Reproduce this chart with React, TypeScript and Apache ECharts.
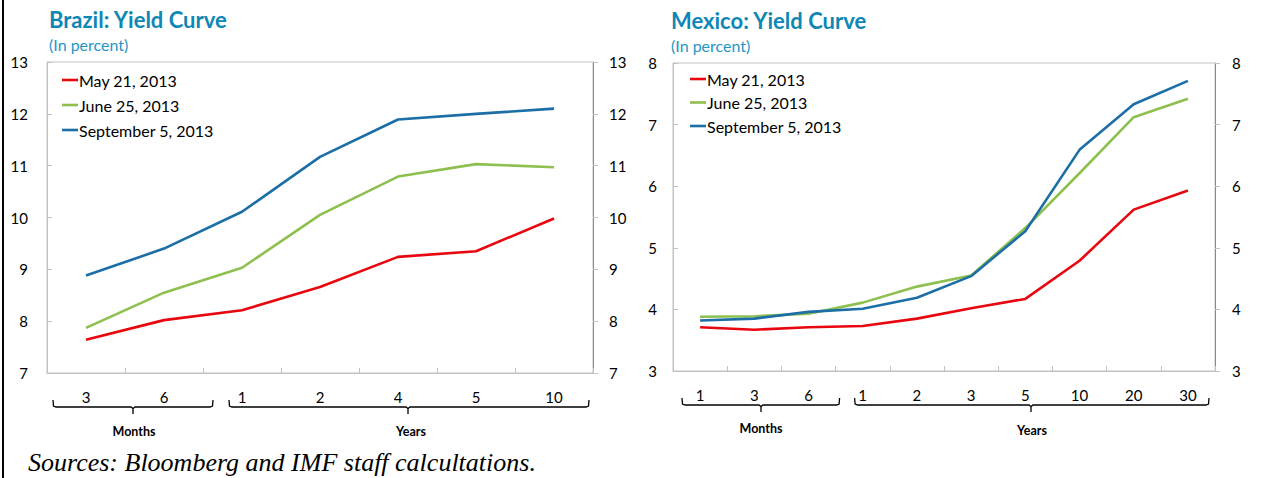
import React, { useEffect, useRef } from "react";
import * as echarts from "echarts";

const seriesNames = ["May 21, 2013", "June 25, 2013", "September 5, 2013"];
const seriesColors = ["#e8060f", "#8dc04f", "#1c6ea6"];

const brazilCategories = ["3", "6", "1", "2", "4", "5", "10"];
const brazilMay = [7.64, 8.02, 8.21, 8.66, 9.24, 9.35, 9.98];
const brazilJune = [7.87, 8.55, 9.03, 10.05, 10.79, 11.03, 10.97];
const brazilSep = [8.88, 9.4, 10.11, 11.17, 11.89, 12.0, 12.1];

const mexicoCategories = ["1", "3", "6", "1", "2", "3", "5", "10", "20", "30"];
const mexicoMay = [3.71, 3.67, 3.71, 3.73, 3.85, 4.02, 4.17, 4.79, 5.62, 5.93];
const mexicoJune = [3.88, 3.89, 3.93, 4.11, 4.37, 4.55, 5.32, 6.21, 7.12, 7.42];
const mexicoSep = [3.82, 3.85, 3.96, 4.01, 4.19, 4.54, 5.27, 6.59, 7.33, 7.71];

const brazilY = { min: 7, max: 13 };
const mexicoY = { min: 3, max: 8 };

const FONT = "Lato";
const TITLE_COLOR = "#0f87b5";
const SUB_COLOR = "#2596c4";
const LIGHT = "#c3c3c3";
const DARK = "#8a8a8a";

// layout
const BR = { left: 47, top: 62, width: 546, height: 311 };
const MX = { left: 673, top: 63, width: 542, height: 308 };

function brace(x0: number, x1: number, cx: number, y: number) {
  const top = y - 7;
  const bot = y + 7;
  return [
    {
      type: "polyline",
      silent: true,
      shape: {
        points: [
          [x0, top],
          [x0 + 0.5, y - 1],
          [x0 + 3, y],
          [cx - 2, y],
          [cx, y + 1.5],
          [cx, bot],
        ],
      },
      style: { stroke: "#000", lineWidth: 1.3, fill: "none" },
    },
    {
      type: "polyline",
      silent: true,
      shape: {
        points: [
          [cx, y + 1.5],
          [cx + 2, y],
          [x1 - 3, y],
          [x1 - 0.5, y - 1],
          [x1, top],
        ],
      },
      style: { stroke: "#000", lineWidth: 1.3, fill: "none" },
    },
  ];
}

function boldLabel(text: string, x: number, y: number) {
  return {
    type: "text",
    silent: true,
    x,
    y,
    style: {
      text,
      fontFamily: FONT,
      fontWeight: "bold",
      fontSize: 12.5,
      fill: "#000",
      align: "center",
      verticalAlign: "middle",
    },
  };
}

export default function App() {
  const ref = useRef<HTMLDivElement>(null);

  useEffect(() => {
    if (!ref.current) return;
    const chart = echarts.init(ref.current, null, { renderer: "svg" });

    const xAxisBase = (gridIndex: number, data: string[]) => ({
      type: "category",
      gridIndex,
      data,
      boundaryGap: true,
      axisLine: { show: true, lineStyle: { color: LIGHT, width: 1 } },
      axisTick: { show: true, inside: true, length: 5, lineStyle: { color: LIGHT } },
      axisLabel: { color: "#000", fontSize: 15, fontFamily: FONT, margin: 16, interval: 0 },
      splitLine: { show: false },
    });

    const yAxisBase = (
      gridIndex: number,
      range: { min: number; max: number },
      position: "left" | "right",
      margin: number
    ) => ({
      type: "value",
      gridIndex,
      position,
      min: range.min,
      max: range.max,
      interval: 1,
      axisLine: {
        show: true,
        lineStyle: { color: position === "left" ? LIGHT : DARK, width: 1 },
      },
      axisTick: {
        show: true,
        inside: position === "left",
        length: 5,
        lineStyle: { color: LIGHT },
      },
      axisLabel: { color: "#000", fontSize: 15, fontFamily: FONT, margin },
      splitLine: { show: false },
    });

    const mkSeries = (
      xAxisIndex: number,
      yAxisIndex: number,
      data: number[][]
    ) =>
      data.map((d, i) => ({
        name: seriesNames[i],
        type: "line",
        xAxisIndex,
        yAxisIndex,
        data: d,
        symbol: "none",
        showSymbol: false,
        lineStyle: { color: seriesColors[i], width: 2.6 },
        itemStyle: { color: seriesColors[i] },
        z: 3 + (i === 1 ? 0 : i === 0 ? 1 : 2),
      }));

    const legendBase = (left: number, top: number, gap: number) => ({
      orient: "vertical",
      left,
      top,
      itemWidth: 16,
      itemHeight: 2.6,
      itemGap: gap,
      icon: "rect",
      padding: 0,
      selectedMode: false,
      data: seriesNames,
      textStyle: { color: "#000", fontSize: 16, fontFamily: FONT, padding: [0, 0, 0, -4] },
    });

    const brYears = BR.left + BR.width;
    const mxCat = MX.width / mexicoCategories.length;

    chart.setOption({
      animation: false,
      backgroundColor: "#fff",
      title: [
        {
          text: "Brazil: Yield Curve",
          subtext: "(In percent)",
          left: 49,
          top: 8,
          padding: 0,
          itemGap: 6,
          textStyle: { color: TITLE_COLOR, fontFamily: FONT, fontWeight: "bold", fontSize: 22 },
          subtextStyle: { color: SUB_COLOR, fontFamily: FONT, fontSize: 16 },
        },
        {
          text: "Mexico: Yield Curve",
          subtext: "(In percent)",
          left: 671,
          top: 9,
          padding: 0,
          itemGap: 6,
          textStyle: { color: TITLE_COLOR, fontFamily: FONT, fontWeight: "bold", fontSize: 22 },
          subtextStyle: { color: SUB_COLOR, fontFamily: FONT, fontSize: 16 },
        },
      ],
      legend: [legendBase(62, 72, 9), legendBase(690, 71, 7.5)],
      grid: [
        { ...BR, show: true, borderColor: LIGHT, borderWidth: 1, backgroundColor: "transparent" },
        { ...MX, show: true, borderColor: LIGHT, borderWidth: 1, backgroundColor: "transparent" },
      ],
      xAxis: [xAxisBase(0, brazilCategories), xAxisBase(1, mexicoCategories)],
      yAxis: [
        yAxisBase(0, brazilY, "left", 19),
        yAxisBase(0, brazilY, "right", 16),
        yAxisBase(1, mexicoY, "left", 16),
        yAxisBase(1, mexicoY, "right", 17),
      ],
      series: [
        ...mkSeries(0, 0, [brazilMay, brazilJune, brazilSep]),
        ...mkSeries(1, 2, [mexicoMay, mexicoJune, mexicoSep]),
      ],
      graphic: [
        {
          type: "rect",
          silent: true,
          shape: { x: 2, y: 0, width: 2, height: 478 },
          style: { fill: "#000" },
        },
        ...brace(BR.left + 6, BR.left + 166, BR.left + 86, 407),
        ...brace(BR.left + 182, brYears - 4, BR.left + 361, 407),
        boldLabel("Months", BR.left + 87, 431),
        boldLabel("Years", BR.left + 364, 431),
        ...brace(MX.left + 9, MX.left + 3 * mxCat + 4, MX.left + 88, 405),
        ...brace(MX.left + 3 * mxCat + 19, MX.left + MX.width - 6, MX.left + 358, 405),
        boldLabel("Months", MX.left + 88, 428),
        boldLabel("Years", MX.left + 359, 430),
        {
          type: "text",
          silent: true,
          x: 28,
          y: 462,
          style: {
            text: "Sources: Bloomberg and IMF staff calcultations.",
            fontFamily: "Liberation Serif",
            fontStyle: "italic",
            fontSize: 26,
            fill: "#000",
            align: "left",
            verticalAlign: "middle",
          },
        },
      ],
    });

    return () => chart.dispose();
  }, []);

  return (
    <div
      ref={ref}
      style={{ position: "fixed", left: 0, top: 0, width: 1263, height: 478 }}
    />
  );
}
